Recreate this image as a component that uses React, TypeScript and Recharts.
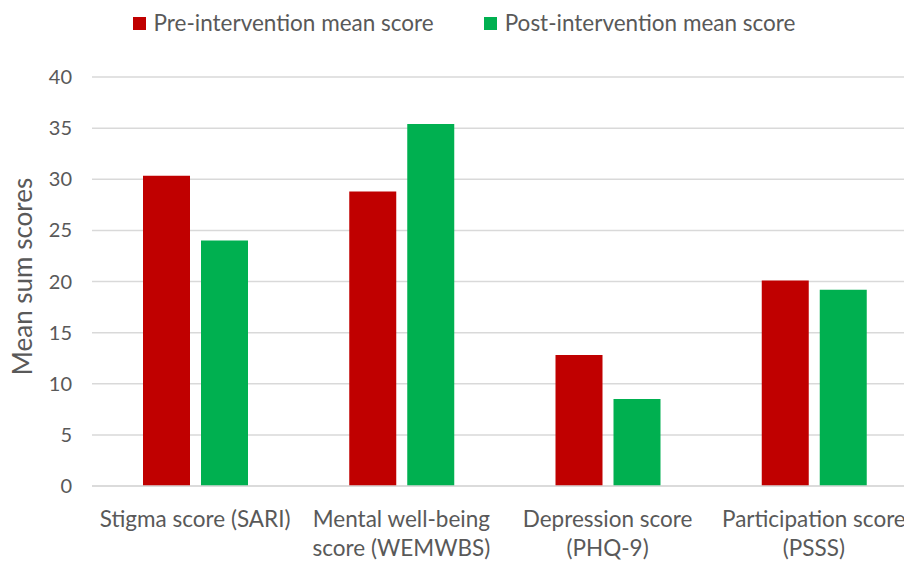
import { BarChart, Bar, XAxis, YAxis, CartesianGrid, Legend, Label } from 'recharts'

// #region Data
const categories = [
  'Stigma score (SARI)',
  'Mental well-being score (WEMWBS)',
  'Depression score (PHQ-9)',
  'Participation score (PSSS)',
]
// how each category label breaks onto lines under the axis
const categoryLines = [
  ['Stigma score (SARI)'],
  ['Mental well-being', 'score (WEMWBS)'],
  ['Depression score', '(PHQ-9)'],
  ['Participation score', '(PSSS)'],
]
const preScores = [30.35, 28.8, 12.8, 20.1]
const postScores = [24.0, 35.4, 8.5, 19.2]
const yTicks = [0, 5, 10, 15, 20, 25, 30, 35, 40]
const seriesNames = ['Pre-intervention mean score', 'Post-intervention mean score']
// #endregion

const data = categories.map((name, i) => ({ name, pre: preScores[i], post: postScores[i] }))

const RED = '#C00000'
const GREEN = '#00B050'
const TEXT = '#595959'
const GRID = '#D9D9D9'
const FONT = 'Lato, "Open Sans", sans-serif'

const CategoryTick = ({ x, y, payload }: any) => {
  const idx = categories.indexOf(payload.value)
  const lines = categoryLines[idx] || [payload.value]
  return (
    <text x={x} y={y} textAnchor="middle" fill={TEXT} fontSize={22.5} fontFamily={FONT}>
      {lines.map((line, i) => (
        <tspan key={i} x={x} dy={i === 0 ? '0.35em' : 29}>
          {line}
        </tspan>
      ))}
    </text>
  )
}

const TopLegend = () => (
  <div
    style={{
      display: 'flex',
      justifyContent: 'center',
      gap: 50,
      fontFamily: FONT,
      fontSize: 22.5,
      lineHeight: '26px',
      color: TEXT,
      paddingLeft: 24,
    }}
  >
    {seriesNames.map((n, i) => (
      <div key={n} style={{ display: 'flex', alignItems: 'center' }}>
        <span
          style={{
            display: 'inline-block',
            width: 13,
            height: 13,
            background: i === 0 ? RED : GREEN,
            marginRight: 8,
          }}
        />
        {n}
      </div>
    ))}
  </div>
)

export default function App() {
  return (
    <div style={{ position: 'fixed', top: 0, left: 0, width: 904, height: 562, overflow: 'hidden', background: '#fff' }}>
      <BarChart
        width={917}
        height={562}
        data={data}
        margin={{ top: 77, right: 0, left: 0, bottom: 0 }}
        barSize={47}
        barGap={11}
        style={{ fontFamily: FONT }}
      >
        <CartesianGrid vertical={false} stroke={GRID} strokeWidth={1.5} />
        <XAxis
          dataKey="name"
          tick={<CategoryTick />}
          tickLine={false}
          tickSize={0}
          axisLine={{ stroke: GRID, strokeWidth: 1.5 }}
          height={76}
          interval={0}
          tickMargin={33}
        />
        <YAxis
          domain={[0, 40]}
          ticks={yTicks}
          width={92}
          tickLine={false}
          axisLine={false}
          tickSize={0}
          tickMargin={20}
          tick={{ fill: TEXT, fontSize: 20, fontFamily: FONT }}
        >
          <Label
            content={({ viewBox }: any) => (
              <text
                x={0}
                y={0}
                transform={`translate(22, ${viewBox.y + viewBox.height / 2 - 5}) rotate(-90)`}
                textAnchor="middle"
                dominantBaseline="central"
                fill={TEXT}
                fontSize={26}
                fontFamily={FONT}
              >
                Mean sum scores
              </text>
            )}
          />
        </YAxis>
        <Legend
          verticalAlign="middle"
          align="center"
          content={<TopLegend />}
          wrapperStyle={{ top: 10, left: 0, width: 904 }}
        />
        <Bar dataKey="pre" name={seriesNames[0]} fill={RED} isAnimationActive={false} />
        <Bar dataKey="post" name={seriesNames[1]} fill={GREEN} isAnimationActive={false} />
      </BarChart>
    </div>
  )
}
